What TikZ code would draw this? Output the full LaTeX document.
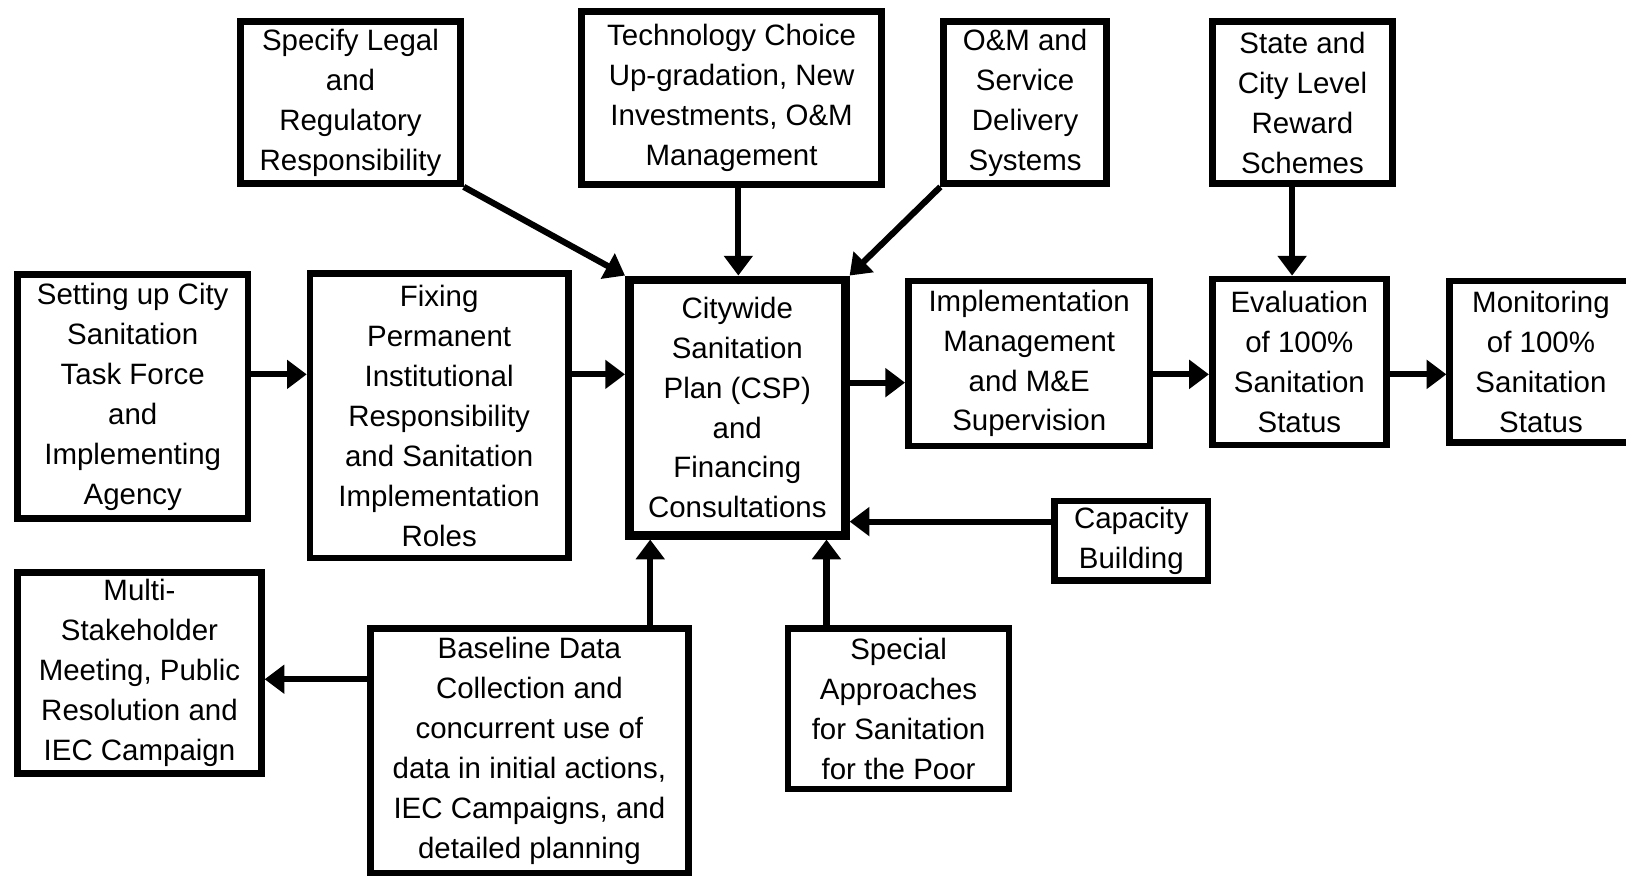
\documentclass[tikz,border=0pt]{standalone}
\usepackage{fontspec}
\setmainfont{Liberation Sans}
\usetikzlibrary{arrows.meta}

\begin{document}
\begin{tikzpicture}[x=0.5pt, y=-0.5pt]
  \tikzstyle{box}=[
      rectangle, draw = black, line width = 3.2pt
    , align = center, inner sep = 0pt
    , font = \fontsize{14.2}{19.25}\selectfont
    ]
  \tikzstyle{plan}=[box, line width = 4.3pt]
  \tikzstyle{connect}=[-{Triangle[length=9.5pt, width=13.5pt]}, line width = 3pt]

  \useasboundingbox (0,0) rectangle (1568,846);

  % top row
  \node[box, minimum width = 106pt, minimum height = 78pt] (legal) at (338,99)
    {Specify Legal\\and\\Regulatory\\Responsibility};
  \node[box, minimum width = 144.5pt, minimum height = 83.5pt] (tech) at (705.5,94.5)
    {Technology Choice\\Up-gradation, New\\Investments, O\&M\\Management};
  \node[box, minimum width = 78.5pt, minimum height = 78pt] (om) at (988.5,99)
    {O\&M and\\Service\\Delivery\\Systems};
  \node[box, minimum width = 87pt, minimum height = 78pt] (reward) at (1256,99)
    {State and\\City Level\\Reward\\Schemes};

  % middle row
  \node[box, minimum width = 111pt, minimum height = 117.5pt] (taskforce) at (128,382.5)
    {Setting up City\\Sanitation\\Task Force\\and\\Implementing\\Agency};
  \node[box, minimum width = 124.5pt, minimum height = 137pt] (fixing) at (423.5,401)
    {Fixing\\Permanent\\Institutional\\Responsibility\\and Sanitation\\Implementation\\Roles};
  \node[plan, minimum width = 104pt, minimum height = 123pt] (csp) at (711,393)
    {Citywide\\Sanitation\\Plan (CSP)\\and\\Financing\\Consultations};
  \node[box, minimum width = 116.5pt, minimum height = 79.5pt] (impl) at (992.5,350.5)
    {Implementation\\Management\\and M\&E\\Supervision};
  \node[box, minimum width = 84pt, minimum height = 80pt] (eval) at (1253,349)
    {Evaluation\\of 100\%\\Sanitation\\Status};
  \node[box, minimum width = 88pt, minimum height = 78pt] (monitor) at (1486,349)
    {Monitoring\\of 100\%\\Sanitation\\Status};

  % bottom row
  \node[box, minimum width = 74pt, minimum height = 38.5pt] (capacity) at (1091,521.5)
    {Capacity\\Building};
  \node[box, minimum width = 117.5pt, minimum height = 97pt] (multi) at (134.5,649)
    {Multi-\\Stakeholder\\Meeting, Public\\Resolution and\\IEC Campaign};
  \node[box, minimum width = 153.5pt, minimum height = 118pt] (baseline) at (510.5,724)
    {Baseline Data\\Collection and\\concurrent use of\\data in initial actions,\\IEC Campaigns, and\\detailed planning};
  \node[box, minimum width = 106.5pt, minimum height = 77.5pt] (special) at (866.5,683.5)
    {Special\\Approaches\\for Sanitation\\for the Poor};

  % connectors into the plan
  \path (legal.south east) edge [connect] (csp.north west);
  \path (tech.south -| 712,0) edge [connect] (csp.north -| 712,0);
  \path (om.south west) edge [connect] (csp.north east);
  \path (fixing.east |- 0,361) edge [connect] (csp.west |- 0,361);
  \path (capacity.west |- 0,503) edge [connect] (csp.east |- 0,503);
  \path (baseline.north -| 627,0) edge [connect] (csp.south -| 627,0);
  \path (special.north -| 797,0) edge [connect] (csp.south -| 797,0);

  % chain along the middle
  \path (taskforce.east |- 0,361) edge [connect] (fixing.west |- 0,361);
  \path (csp.east |- 0,369) edge [connect] (impl.west |- 0,369);
  \path (impl.east |- 0,361) edge [connect] (eval.west |- 0,361);
  \path (eval.east |- 0,361) edge [connect] (monitor.west |- 0,361);
  \path (reward.south -| 1246,0) edge [connect] (eval.north -| 1246,0);
  \path (baseline.west |- 0,655) edge [connect] (multi.east |- 0,655);

\end{tikzpicture}
\end{document}
